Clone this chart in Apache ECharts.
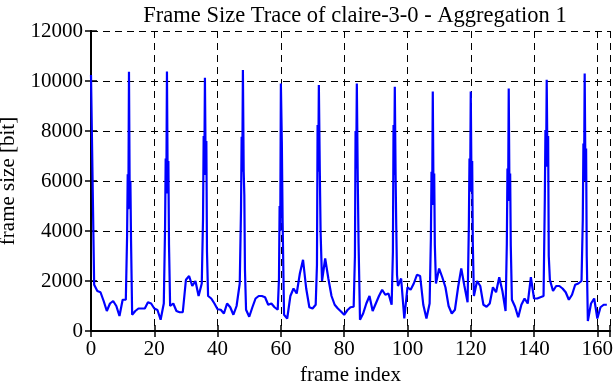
<!DOCTYPE html>
<html>
<head>
<meta charset="utf-8">
<script src="https://cdn.jsdelivr.net/npm/echarts@6/dist/echarts.min.js"></script>
<style>
html,body{margin:0;padding:0;background:#fff;}
#chart{width:613px;height:382px;}
</style>
</head>
<body>
<div id="chart"></div>
<script>
// Frame sizes in bits for frame index 0..163
var frameSize = [
  10240, 1850, 1600, 1550, 1200, 800, 1100, 1200, 1000, 600,
  1250, 1250, 10370, 650, 800, 900, 900, 900, 1150, 1100,
  900, 840, 450, 1100, 10380, 1000, 1100, 800, 750, 750,
  2050, 2200, 1800, 2000, 1400, 1900, 10130, 1400, 1300, 1100,
  870, 850, 700, 1100, 950, 650, 1000, 1900, 10440, 850,
  570, 950, 1300, 1400, 1400, 1350, 1050, 1100, 950, 850,
  9900, 650, 500, 1400, 1700, 1500, 2300, 2850, 1700, 950,
  900, 1050, 9840, 2000, 2900, 2100, 1400, 1050, 900, 780,
  650, 830, 950, 970, 9900, 450, 700, 1100, 1400, 800,
  1100, 1400, 1650, 1450, 1500, 1050, 9770, 1800, 2100, 500,
  1750, 1650, 1900, 2250, 2200, 1050, 500, 1100, 9580, 1900,
  2500, 2150, 1750, 1000, 700, 850, 1750, 2500, 1800, 1150,
  9580, 1400, 2000, 1800, 1050, 970, 1100, 1750, 1550, 2150,
  1600, 800, 9700, 1250, 970, 550, 1050, 1300, 1100, 2150,
  1300, 1300, 1350, 1400, 10050, 2050, 1600, 1800, 1800, 1700,
  1550, 1250, 1450, 1850, 1900, 2000, 10300, 400, 1100, 1300,
  500, 950, 1050, 1050
];
// Sub-frame detail points around the I-frame spikes: [frame index, bits]
var spikeDetail = [
  [11.4, 3770], [11.6, 6270], [11.8, 4870], [12.25, 4900], [12.45, 6000], [12.65, 3640],
  [23.4, 4100], [23.6, 6900], [23.8, 5500], [24.25, 5500], [24.45, 6800], [24.65, 3440],
  [35.4, 4500], [35.6, 7800], [35.8, 6240], [36.25, 6240], [36.45, 7600], [36.65, 3170],
  [47.4, 4840], [47.6, 7770], [47.8, 6370], [48.25, 6370], [48.45, 5440], [48.65, 2440],
  [59.4, 2100], [59.6, 5000], [59.8, 4000], [60.3, 7570], [60.55, 4400],
  [71.4, 2640], [71.6, 8240], [71.8, 6370], [72.3, 6400], [72.55, 3970],
  [83.4, 3000], [83.6, 8000], [83.8, 6500], [84.3, 6000], [84.55, 3500],
  [95.4, 3170], [95.6, 8240], [95.8, 6240], [96.25, 6240], [96.45, 4240], [96.7, 2240],
  [107.4, 3700], [107.6, 6370], [107.8, 5040], [108.25, 5040], [108.45, 6300], [108.65, 3440],
  [119.4, 4240], [119.6, 6900], [119.8, 5570], [120.25, 5570], [120.45, 6800], [120.65, 3500],
  [131.4, 3500], [131.6, 6500], [131.8, 5200], [132.25, 5200], [132.45, 6300], [132.65, 3400],
  [143.4, 5240], [143.6, 8040], [143.8, 6570], [144.25, 6570], [144.45, 7800], [144.65, 3000],
  [155.4, 4440], [155.6, 7500], [155.8, 6000], [156.25, 6000], [156.45, 7300], [156.65, 3000]
];
var xTicks = [0, 20, 40, 60, 80, 100, 120, 140, 160];
var yTicks = [0, 2000, 4000, 6000, 8000, 10000, 12000];

var points = frameSize.map(function (v, i) { return [i, v]; }).concat(spikeDetail);
points.sort(function (a, b) { return a[0] - b[0]; });

var FONT = '"Liberation Serif", "DejaVu Serif", serif';
var FS = 21;
var chart = echarts.init(document.getElementById('chart'), null, {renderer: 'canvas'});
var splitStyle = {show: true, lineStyle: {color: '#000', width: 1, type: [7, 5]}};
var lineStyle = {show: true, lineStyle: {color: '#000', width: 2}};
var tick = {show: true, inside: true, length: 6, lineStyle: {color: '#000', width: 1.5}};

chart.setOption({
  animation: false,
  backgroundColor: '#fff',
  title: {
    text: 'Frame Size Trace of claire-3-0 - Aggregation 1',
    left: 350, top: 0, textAlign: 'center',
    textStyle: {fontFamily: FONT, fontSize: 22.5, fontWeight: 'normal', color: '#000'}
  },
  grid: {left: 91, right: 3, top: 31, bottom: 51, containLabel: false, outerBoundsMode: 'none'},
  xAxis: [{
    type: 'value', min: 0, max: 164, interval: 20,
    name: 'frame index', nameLocation: 'middle', nameGap: 32,
    nameTextStyle: {fontFamily: FONT, fontSize: FS, color: '#000'},
    axisLine: lineStyle, axisTick: tick, splitLine: splitStyle,
    axisLabel: {
      fontFamily: FONT, fontSize: FS, color: '#000', margin: 8,
      formatter: function (v) { return xTicks.indexOf(v) >= 0 ? String(v) : ''; }
    }
  }, {
    type: 'value', position: 'top', min: 0, max: 164, interval: 20,
    axisLine: lineStyle, axisTick: tick, splitLine: {show: false}, axisLabel: {show: false}
  }],
  yAxis: [{
    type: 'value', min: 0, max: 12000, interval: 2000,
    name: 'frame size [bit]', nameLocation: 'middle', nameGap: 72,
    nameTextStyle: {fontFamily: FONT, fontSize: FS, color: '#000'},
    axisLine: lineStyle, axisTick: tick, splitLine: splitStyle,
    axisLabel: {
      fontFamily: FONT, fontSize: FS, color: '#000', margin: 8,
      formatter: function (v) { return yTicks.indexOf(v) >= 0 ? String(v) : ''; }
    }
  }, {
    type: 'value', position: 'right', min: 0, max: 12000, interval: 2000,
    axisLine: lineStyle, axisTick: tick, splitLine: {show: false}, axisLabel: {show: false}
  }],
  series: [{
    type: 'line',
    data: points,
    showSymbol: false,
    symbol: 'none',
    lineStyle: {color: '#0000ff', width: 2.2},
    z: 3
  }]
});
</script>
</body>
</html>
